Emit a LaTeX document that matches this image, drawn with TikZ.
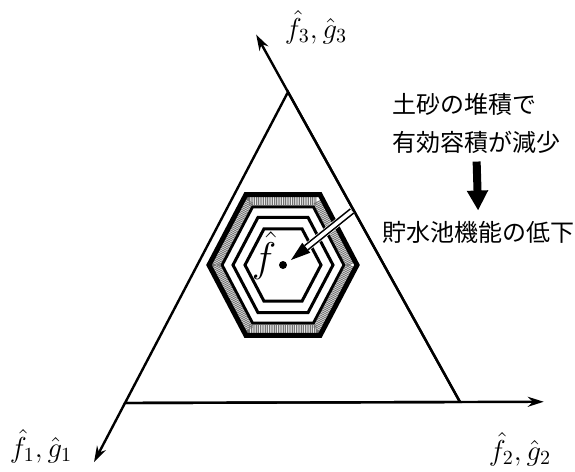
\documentclass[tikz,border=0pt]{standalone}
\usepackage{fontspec}
\newfontfamily\jpfont{Noto Sans CJK JP}
\usetikzlibrary{arrows.meta,calc}

\begin{document}
\begin{tikzpicture}[x=0.5pt,y=-0.5pt,>={Stealth[length=8pt,width=5pt]},
  hexline/.style={line width=1.5pt},
  jtext/.style={font=\jpfont\fontsize{12}{14}\selectfont,inner sep=0pt,anchor=west},
  axlabel/.style={font=\Large,inner sep=0pt}]
  \useasboundingbox (0,0) rectangle (575,472);

  % triangle, each side runs on as an axis
  \coordinate (A) at (125,403);
  \coordinate (B) at (460,402);
  \coordinate (C) at (288,92);
  \draw[line width=1.2pt,line join=miter] (A) -- (B) -- (C) -- cycle;
  \draw[->,line width=1.2pt] (A) -- ($(A)!-0.19!(C)$) coordinate (e1);
  \draw[->,line width=1.2pt] (A) -- ($(A)!1.25!(B)$) coordinate (e2);
  \draw[->,line width=1.2pt] (B) -- ($(B)!1.185!(C)$) coordinate (e3);

  \node[axlabel] (l1) at (41,446) {$\hat{f}_1,\hat{g}_1$};
  \node[axlabel] (l2) at (520,449) {$\hat{f}_2,\hat{g}_2$};
  \node[axlabel] (l3) at (316,27) {$\hat{f}_3,\hat{g}_3$};

  % nested hexagons round the point f
  \coordinate (O) at (283,265);
  \begin{scope}[shift={(O)},yscale=1.1]
    \foreach \r in {38,50,61} {
      \draw[hexline] (0:\r) -- (60:\r) -- (120:\r) -- (180:\r) -- (240:\r) -- (300:\r) -- cycle;
    }
    \draw[line width=4pt,black!55,dash pattern=on 0.5pt off 0.4pt]
      (0:67) -- (60:67) -- (120:67) -- (180:67) -- (240:67) -- (300:67) -- cycle;
    \draw[line width=2.5pt]
      (0:74) -- (60:74) -- (120:74) -- (180:74) -- (240:74) -- (300:74) -- cycle;
  \end{scope}
  \fill (O) circle (4);
  \node[font=\huge,inner sep=0pt] (fh) at (264,256) {$\hat{f}$};

  % hollow arrow into the point
  \coordinate (S) at (352,211);
  \coordinate (T) at (291,260);
  \coordinate (H) at ($(T)!0.25!(S)$);
  \draw[white,line width=4pt] (S) -- (H);
  \draw[line width=0.8pt,double=white,double distance=1.8pt] (S) -- (H);
  \fill (T) -- ($(H)!3.2pt!90:(S)$) -- ($(H)!3.2pt!-90:(S)$) -- cycle;

  % text on the right
  \node[jtext] (t1) at (392,104) {土砂の堆積で};
  \node[jtext] (t2) at (392,142) {有効容積が減少};
  \node[jtext] (t3) at (382,232) {貯水池機能の低下};
  \draw[line width=4pt,-{Triangle[length=10pt,width=10pt]},shorten <=4pt,shorten >=5pt]
    (t2.south) -- (t3.north);
\end{tikzpicture}
\end{document}
